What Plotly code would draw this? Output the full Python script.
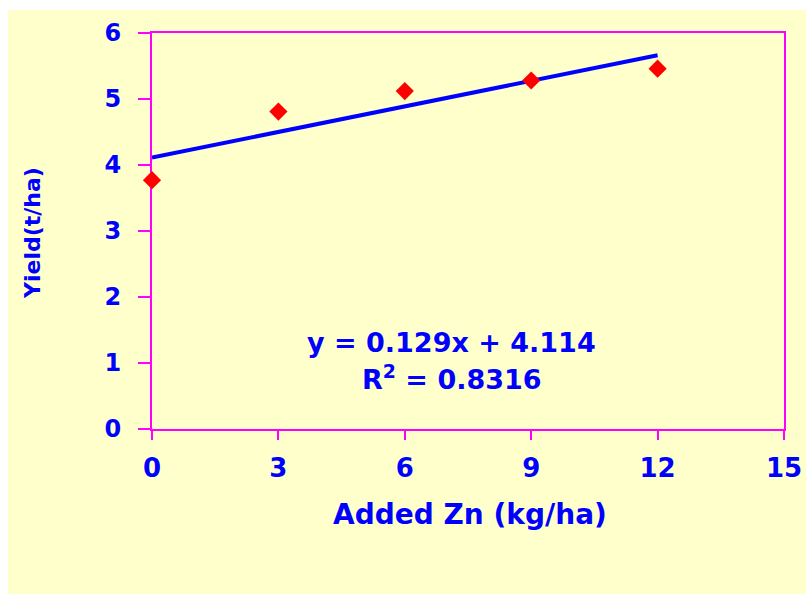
import plotly.graph_objects as go

# Zinc application trial: rate of added Zn vs. grain yield
zn_rate = [0, 3, 6, 9, 12]                 # kg/ha
yield_t = [3.77, 4.81, 5.12, 5.28, 5.46]    # t/ha

# Linear fit reported with the data
slope = 0.129
intercept = 4.114
r_squared = 0.8316

x_ticks = [0, 3, 6, 9, 12, 15]
y_ticks = [0, 1, 2, 3, 4, 5, 6]

BLUE = "#0000FF"
MAGENTA = "#FF00FF"
RED = "#FF0000"
CREAM = "#FFFFCC"
FONT = "DejaVu Sans"

fit_x = [min(zn_rate), max(zn_rate)]
fit_y = [slope * v + intercept for v in fit_x]

fig = go.Figure()

fig.add_trace(go.Scatter(
    x=fit_x, y=fit_y, mode="lines",
    line=dict(color=BLUE, width=4),
    cliponaxis=False, showlegend=False, hoverinfo="skip",
))

fig.add_trace(go.Scatter(
    x=zn_rate, y=yield_t, mode="markers",
    marker=dict(symbol="diamond", size=14, color=RED, line=dict(width=0)),
    cliponaxis=False, showlegend=False,
))

axis_common = dict(
    showline=True, linecolor=MAGENTA, linewidth=2, mirror=True,
    ticks="outside", tickcolor=MAGENTA, tickwidth=2,
    showgrid=False, zeroline=False, layer="below traces",
    automargin=False,
)

fig.update_xaxes(
    range=[0, 15], tickvals=x_ticks, ticktext=[str(v) for v in x_ticks],
    ticklen=9, ticklabelstandoff=6,
    tickfont=dict(family=FONT, size=26, color=BLUE, weight="bold"),
    **axis_common,
)
fig.update_yaxes(
    range=[0, 6], tickvals=y_ticks, ticktext=[str(v) for v in y_ticks],
    ticklen=12, ticklabelstandoff=12,
    tickfont=dict(family=FONT, size=24, color=BLUE, weight="bold"),
    **axis_common,
)

title_font = dict(family=FONT, size=28, color=BLUE, weight="bold")
eq_font = dict(family=FONT, size=27, color=BLUE, weight="bold")

fig.update_layout(
    width=806, height=594,
    margin=dict(l=152, r=22, t=33, b=165),
    paper_bgcolor="white",
    plot_bgcolor=CREAM,
    shapes=[dict(
        type="rect", xref="paper", yref="paper", layer="below",
        x0=(8 - 152) / 632, x1=(806 - 152) / 632,
        y0=(429 - 600) / 396, y1=(429 - 10) / 396,
        fillcolor=CREAM, line=dict(width=0),
    )],
    annotations=[
        dict(text="Added Zn (kg/ha)", xref="paper", yref="paper",
             x=(470 - 152) / 632, y=(429 - 514) / 396,
             xanchor="center", yanchor="middle", showarrow=False,
             font=title_font),
        dict(text="Yield(t/ha)", xref="paper", yref="paper",
             x=(33 - 152) / 632, y=(429 - 233) / 396, textangle=-90,
             xanchor="center", yanchor="middle", showarrow=False,
             font=dict(family=FONT, size=22, color=BLUE, weight="bold")),
        dict(text=f"y = {slope}x + {intercept}", xref="x", yref="y",
             x=7.12, y=1.31, xanchor="center", yanchor="middle",
             showarrow=False, font=eq_font),
        dict(text=f"R<sup>2</sup> = {r_squared}", xref="x", yref="y",
             x=7.12, y=0.78, xanchor="center", yanchor="middle",
             showarrow=False, font=eq_font),
    ],
)

fig.write_html("out.html")
